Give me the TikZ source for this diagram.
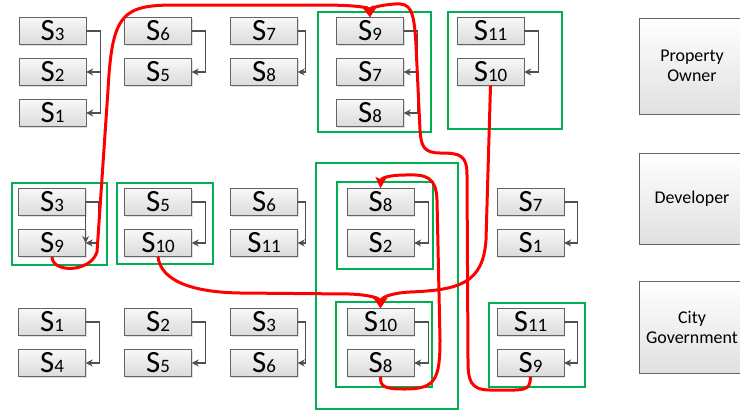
\documentclass[tikz,border=0pt]{standalone}
\usepackage{fontspec}
\setmainfont{Carlito}
\usetikzlibrary{arrows.meta,shadows}

\definecolor{linkgray}{RGB}{80,80,80}
\definecolor{grpgreen}{RGB}{0,176,80}
\definecolor{boxline}{RGB}{100,100,100}
\newcommand{\stg}[1]{{\fontsize{31}{31}\selectfont S}{\fontsize{19}{19}\selectfont #1}}

\tikzset{
  stage/.style={draw=boxline, top color=white!97!black, bottom color=white!86!black,
    minimum width=67bp, minimum height=27bp, inner sep=0pt,
    drop shadow={shadow xshift=1.2bp, shadow yshift=-1.2bp, opacity=0.25}},
  role/.style={draw=boxline, top color=white, bottom color=white!88!black,
    minimum width=106bp, inner sep=0pt, align=center, font=\fontsize{18}{20}\selectfont},
  link/.style={linkgray, line width=1.3bp, -{Stealth[length=7bp,width=7bp]}},
  grp/.style={grpgreen, line width=1.2bp},
  flow/.style={red, line width=3bp, line join=round, -{Stealth[length=11bp,width=11bp,inset=2bp]}},
}

\begin{document}
\begin{tikzpicture}[x=1bp,y=-1bp]
\useasboundingbox (0,0) rectangle (740,412);

% property owner
\node[stage] (oa3) at (52.5,31) {\stg{3}};
\node[stage] (oa2) at (52.5,72) {\stg{2}};
\node[stage] (oa1) at (52.5,113) {\stg{1}};
\node[stage] (ob6) at (158,31) {\stg{6}};
\node[stage] (ob5) at (158,72) {\stg{5}};
\node[stage] (oc7) at (264,31) {\stg{7}};
\node[stage] (oc8) at (264,72) {\stg{8}};
\node[stage] (od9) at (370,31) {\stg{9}};
\node[stage] (od7) at (370,72) {\stg{7}};
\node[stage] (od8) at (370,113) {\stg{8}};
\node[stage] (oe11) at (490.5,31) {\stg{11}};
\node[stage] (oe10) at (490.5,72) {\stg{10}};

% developer
\node[stage] (da3) at (52,202) {\stg{3}};
\node[stage] (da9) at (52,243) {\stg{9}};
\node[stage] (db5) at (158,202) {\stg{5}};
\node[stage] (db10) at (158,243) {\stg{10}};
\node[stage] (dc6) at (264,202) {\stg{6}};
\node[stage] (dc11) at (264,243) {\stg{11}};
\node[stage] (dd8) at (380.5,202) {\stg{8}};
\node[stage] (dd2) at (380.5,243) {\stg{2}};
\node[stage] (de7) at (530.5,202) {\stg{7}};
\node[stage] (de1) at (530.5,243) {\stg{1}};

% city government
\node[stage] (ga1) at (52,322) {\stg{1}};
\node[stage] (ga4) at (52,363) {\stg{4}};
\node[stage] (gb2) at (158,322) {\stg{2}};
\node[stage] (gb5) at (158,363) {\stg{5}};
\node[stage] (gc3) at (264,322) {\stg{3}};
\node[stage] (gc6) at (264,363) {\stg{6}};
\node[stage] (gd10) at (380.5,322) {\stg{10}};
\node[stage] (gd8) at (380.5,363) {\stg{8}};
\node[stage] (ge11) at (530.5,322) {\stg{11}};
\node[stage] (ge9) at (530.5,363) {\stg{9}};

% roles
\node[role, minimum height=96bp] (owner) at (692,66) {Property\\Owner};
\node[role, minimum height=91bp] (dev) at (692,198.5) {Developer};
\node[role, minimum height=92bp] (city) at (692,327) {City\\Government};

% successions
\draw[link] (oa3.east) -- ++(14,0) |- (oa2.east);
\draw[link] (oa3.east) -- ++(14,0) |- (oa1.east);
\draw[link] (ob6.east) -- ++(14,0) |- (ob5.east);
\draw[link] (oc7.east) -- ++(8,0) |- (oc8.east);
\draw[link] (od9.east) -- ++(14,0) |- (od7.east);
\draw[link] (od9.east) -- ++(14,0) |- (od8.east);
\draw[link] (oe11.east) -- ++(14,0) |- (oe10.east);
\draw[link] (da3.east) -- ++(13,0) |- (da9.east);
\draw[link] (da3.east) -- (da9.east);
\draw[link] (db5.east) -- ++(14,0) |- (db10.east);
\draw[link] (dc6.east) -- ++(8,0) |- (dc11.east);
\draw[link] (dd8.east) -- ++(14,0) |- (dd2.east);
\draw[link] (de7.east) -- ++(13,0) |- (de1.east);
\draw[link] (ga1.east) -- ++(14,0) |- (ga4.east);
\draw[link] (gb2.east) -- ++(14,0) |- (gb5.east);
\draw[link] (gc3.east) -- ++(8,0) |- (gc6.east);
\draw[link] (gd10.east) -- ++(14,0) |- (gd8.east);
\draw[link] (ge11.east) -- ++(13,0) |- (ge9.east);

% groups
\draw[grp] (318,12) rectangle (431,132);
\draw[grp] (448,12) rectangle (562,129);
\draw[grp] (12,183) rectangle (107,265);
\draw[grp] (117,183) rectangle (213,264);
\draw[grp] (316,163) rectangle (458,409);
\draw[grp] (337,182) rectangle (433,269);
\draw[grp] (336,302) rectangle (432,387);
\draw[grp] (489,303) rectangle (585,387);

% flows
\draw[flow] (da9.south) .. controls (52,273) and (90,273) .. (97,252) -- (108,90)
  .. controls (112,14) and (122,5) .. (175,5) -- (320,5) .. controls (352,5) and (368,7) .. (od9.north);
\draw[flow] (ge9.south) .. controls (530,392) and (525,390) .. (490,390)
  .. controls (470,390) and (468,380) .. (468,360) -- (467,175)
  .. controls (467,155) and (460,153) .. (440,153) .. controls (423,153) and (421,145) .. (420,130)
  -- (416,45) .. controls (414,8) and (410,3) .. (395,4) .. controls (380,5) and (371,8) .. (od9.north);
\draw[flow] (oe10.south) -- (486,240) .. controls (483,283) and (460,290) .. (410,292)
  .. controls (392,293) and (382,297) .. (gd10.north);
\draw[flow] (db10.south) .. controls (160,275) and (180,292) .. (240,293) -- (350,294)
  .. controls (370,295) and (379,298) .. (gd10.north);
\draw[flow] (gd8.south) .. controls (380,387) and (385,389) .. (405,389)
  .. controls (435,389) and (440,380) .. (440,340) -- (437,200)
  .. controls (436,178) and (428,174) .. (405,175) .. controls (390,175) and (381,178) .. (dd8.north);
\end{tikzpicture}
\end{document}
